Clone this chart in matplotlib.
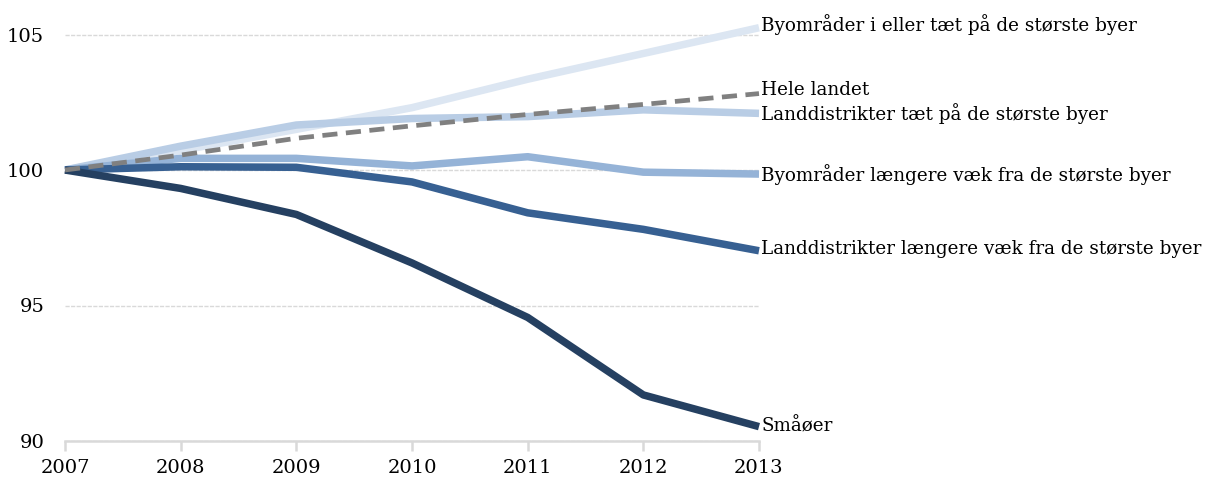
import matplotlib
matplotlib.use("Agg")
import matplotlib.pyplot as plt

years = [2007, 2008, 2009, 2010, 2011, 2012, 2013]

series_names = [
    "Byområder i eller tæt på de største byer",
    "Hele landet",
    "Landdistrikter tæt på de største byer",
    "Byområder længere væk fra de største byer",
    "Landdistrikter længere væk fra de største byer",
    "Småøer",
]

by_taet = [100.0, 100.72, 101.5, 102.3, 103.35, 104.3, 105.25]
hele_landet = [100.0, 100.55, 101.17, 101.63, 102.05, 102.42, 102.82]
land_taet = [100.0, 100.88, 101.66, 101.9, 101.97, 102.22, 102.09]
by_laengere = [100.0, 100.43, 100.43, 100.15, 100.49, 99.92, 99.85]
land_laengere = [100.0, 100.12, 100.1, 99.56, 98.42, 97.81, 97.02]
smaaoer = [100.0, 99.32, 98.36, 96.57, 94.56, 91.7, 90.53]

yticks = [90, 95, 100, 105]

plt.rcParams['font.family'] = ['DejaVu Serif']

fig = plt.figure(figsize=(12.15, 4.79), dpi=100)
ax = fig.add_axes([65/1215, 1-441/479, (759-65)/1215, (441-7.4)/479])

ax.plot(years, by_taet, color='#dce6f2', lw=5.4, solid_capstyle='butt', zorder=3, clip_on=False)
ax.plot(years, land_taet, color='#b9cde5', lw=5.4, solid_capstyle='butt', zorder=4, clip_on=False)
ax.plot(years, hele_landet, color='#808080', lw=3.4, dashes=(3.2, 1.8), zorder=8, clip_on=False)
ax.plot(years, by_laengere, color='#95b3d7', lw=5.4, solid_capstyle='butt', zorder=5, clip_on=False)
ax.plot(years, land_laengere, color='#376092', lw=5.4, solid_capstyle='butt', zorder=6, clip_on=False)
ax.plot(years, smaaoer, color='#254061', lw=5.4, solid_capstyle='butt', zorder=7, clip_on=False)

ends = [by_taet, hele_landet, land_taet, by_laengere, land_laengere, smaaoer]
offsets = [0.12, 0.12, -0.02, 0.0, 0.05, 0.0]
for name, vals, off in zip(series_names, ends, offsets):
    ax.text(2013.02, vals[-1] + off, name, fontsize=13.2, va='center', ha='left', color='black')

ax.set_xlim(2007, 2013)
ax.set_ylim(90, 106)
ax.set_xticks(years)
ax.set_yticks(yticks)
ax.set_yticklabels([str(v) for v in yticks])

for s in ['top', 'right', 'left']:
    ax.spines[s].set_visible(False)
ax.spines['bottom'].set_color('#d9d9d9')
ax.spines['bottom'].set_linewidth(1.8)
ax.tick_params(axis='x', length=7, width=1.8, color='#d9d9d9', labelsize=14, pad=6)
ax.tick_params(axis='y', length=0, labelsize=14, pad=15)

ax.yaxis.grid(True, color='#d9d9d9', lw=1.0, ls=(0, (3, 1)))
ax.set_axisbelow(True)

fig.savefig("out.png", dpi=100)
